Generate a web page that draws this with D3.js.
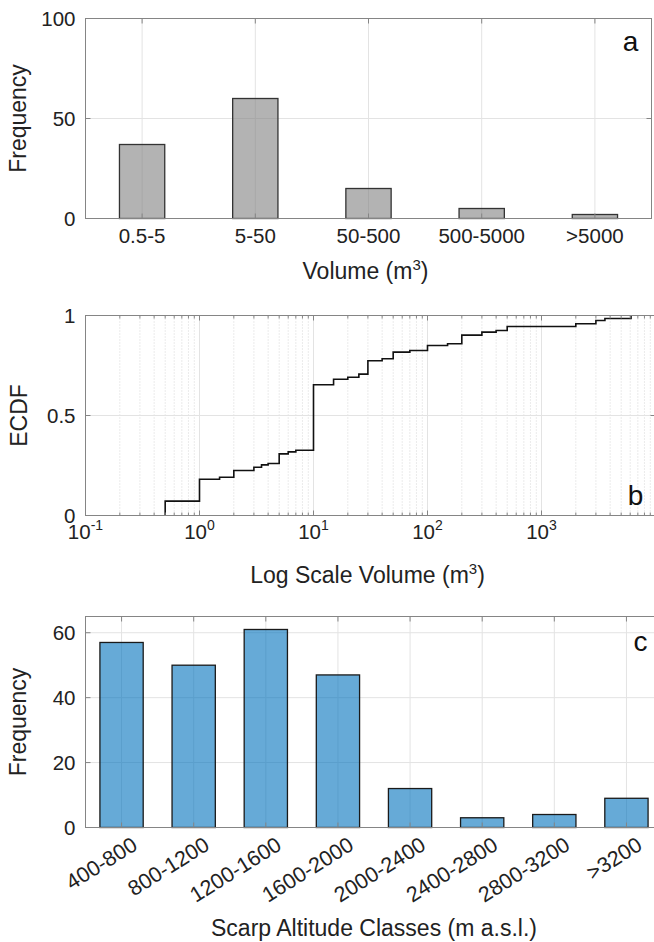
<!DOCTYPE html>
<html>
<head>
<meta charset="utf-8">
<script src="https://cdn.jsdelivr.net/npm/d3@7"></script>
<style>
  html, body { margin: 0; padding: 0; background: #fff; }
  svg { display: block; font-family: "Liberation Sans", Arial, Helvetica, sans-serif; }
  .tick-label { font-size: 20.5px; fill: #222; }
  .tick-label.rot { font-size: 21.5px; }
  .axis-label { font-size: 23px; fill: #222; }
  .panel-letter { font-size: 28px; fill: #111; }
</style>
</head>
<body>
<svg id="chart" width="654" height="942"></svg>
<script>
// panel a: volume classes
var volumeClasses = ["0.5-5", "5-50", "50-500", "500-5000", ">5000"];
var volumeCounts = [37, 60, 15, 5, 2];
var volumeTicks = [0, 50, 100];

var ecdfVolume = [0.5, 1, 1.5, 2, 3, 3.5, 4, 5, 6, 7, 10, 15, 20, 25, 30, 40, 50, 70,
                  100, 150, 200, 300, 400, 500, 2000, 3000, 3600, 6100];
var ecdfProb = [0.072, 0.181, 0.191, 0.225, 0.241, 0.253, 0.260, 0.308, 0.318, 0.326,
                0.654, 0.681, 0.691, 0.707, 0.774, 0.784, 0.817, 0.825,
                0.850, 0.859, 0.902, 0.917, 0.925, 0.945, 0.959, 0.975, 0.985, 1.0];
var ecdfTicks = [0, 0.5, 1];
var logTicks = [0.1, 1, 10, 100, 1000];
var logTickExp = ["-1", "0", "1", "2", "3"];

// panel c: scarp altitude classes
var altitudeClasses = ["400-800", "800-1200", "1200-1600", "1600-2000",
                       "2000-2400", "2400-2800", "2800-3200", ">3200"];
var altitudeCounts = [57, 50, 61, 47, 12, 3, 4, 9];
var altitudeTicks = [0, 20, 40, 60];

var svg = d3.select("#chart");
var axisColor = "#858585",
    gridColor = "#e3e3e3",
    minorGridColor = "#d6d6d6";

function drawFrame(g, x0, x1, y0, y1) {
  g.append("rect")
    .attr("x", x0).attr("y", y0)
    .attr("width", x1 - x0).attr("height", y1 - y0)
    .attr("fill", "none")
    .attr("stroke", axisColor)
    .attr("stroke-width", 1);
}

function drawYAxis(g, y, ticks, x0, x1, fmt) {
  ticks.forEach(function (t) {
    // inward ticks on both sides
    g.append("line")
      .attr("x1", x0).attr("x2", x0 + 5)
      .attr("y1", y(t)).attr("y2", y(t))
      .attr("stroke", axisColor);
    g.append("line")
      .attr("x1", x1).attr("x2", x1 - 5)
      .attr("y1", y(t)).attr("y2", y(t))
      .attr("stroke", axisColor);
    g.append("text")
      .attr("class", "tick-label")
      .attr("x", x0 - 10)
      .attr("y", y(t))
      .attr("dy", "0.36em")
      .attr("text-anchor", "end")
      .text(fmt ? fmt(t) : t);
  });
}

function drawHGrid(g, y, ticks, x0, x1) {
  ticks.forEach(function (t) {
    if (y(t) <= y.range()[1] + 1 || y(t) >= y.range()[0] - 1) return;
    g.append("line")
      .attr("x1", x0).attr("x2", x1)
      .attr("y1", y(t)).attr("y2", y(t))
      .attr("stroke", gridColor);
  });
}

function drawVGrid(g, xs, y0, y1, color, dash) {
  xs.forEach(function (xv) {
    g.append("line")
      .attr("x1", xv).attr("x2", xv)
      .attr("y1", y0).attr("y2", y1)
      .attr("stroke", color)
      .attr("stroke-dasharray", dash || null);
  });
}

function drawXTicks(g, xs, y0, y1, len) {
  xs.forEach(function (xv) {
    g.append("line")
      .attr("x1", xv).attr("x2", xv)
      .attr("y1", y1).attr("y2", y1 - len)
      .attr("stroke", axisColor);
    g.append("line")
      .attr("x1", xv).attr("x2", xv)
      .attr("y1", y0).attr("y2", y0 + len)
      .attr("stroke", axisColor);
  });
}

function yLabel(text, x, yMid) {
  svg.append("text")
    .attr("class", "axis-label")
    .attr("transform", "translate(" + x + "," + yMid + ") rotate(-90)")
    .attr("text-anchor", "middle")
    .text(text);
}

function supLabel(g, base, sup, x, y, cls, supSize, rise) {
  var t = g.append("text")
    .attr("class", cls)
    .attr("x", x).attr("y", y)
    .attr("text-anchor", "middle");
  t.append("tspan").text(base);
  t.append("tspan").attr("dy", -rise).style("font-size", supSize + "px").text(sup);
  return t;
}

// ---------- panel a ----------
(function () {
  var left = 85.5, right = 651.5, top = 18.5, bottom = 218.5;
  var g = svg.append("g");
  var x = d3.scaleLinear().domain([0.5, volumeClasses.length + 0.5]).range([left, right]);
  var y = d3.scaleLinear().domain([0, 100]).range([bottom, top]);
  var centers = volumeClasses.map(function (d, i) { return x(i + 1); });

  drawVGrid(g, centers, top, bottom, gridColor);
  drawHGrid(g, y, volumeTicks, left, right);

  g.selectAll("rect.bar").data(volumeCounts).enter()
    .append("rect")
    .attr("class", "bar")
    .attr("x", function (d, i) { return x(i + 1 - 0.2); })
    .attr("width", x(1.2) - x(0.8))
    .attr("y", function (d) { return y(d); })
    .attr("height", function (d) { return y(0) - y(d); })
    .attr("fill", "#808080")
    .attr("fill-opacity", 0.6)
    .attr("stroke", "#333")
    .attr("stroke-width", 1.3);

  drawFrame(g, left, right, top, bottom);
  drawXTicks(g, centers, top, bottom, 5);
  drawYAxis(g, y, volumeTicks, left, right);

  volumeClasses.forEach(function (c, i) {
    g.append("text")
      .attr("class", "tick-label")
      .attr("x", x(i + 1)).attr("y", bottom + 24)
      .attr("text-anchor", "middle")
      .text(c);
  });

  supLabel(g, "Volume (m", "3", (left + right) / 2 - 3, bottom + 60, "axis-label", 15, 9)
    .append("tspan").attr("dy", 9).text(")");
  yLabel("Frequency", 26, (top + bottom) / 2);

  g.append("text").attr("class", "panel-letter")
    .attr("x", 630.5).attr("y", 50.5).attr("text-anchor", "middle").text("a");
})();

// ---------- panel b ----------
(function () {
  var left = 85.5, right = 655.5, top = 315.5, bottom = 515.5;
  var g = svg.append("g");
  var x = d3.scaleLog().domain([0.1, 10000]).range([left, right]);
  var y = d3.scaleLinear().domain([0, 1]).range([bottom, top]);

  var minor = [];
  [-1, 0, 1, 2, 3].forEach(function (e) {
    d3.range(2, 10).forEach(function (k) { minor.push(k * Math.pow(10, e)); });
  });

  drawVGrid(g, minor.map(x), top, bottom, minorGridColor, "1,2");
  drawVGrid(g, logTicks.map(x), top, bottom, gridColor);
  drawHGrid(g, y, ecdfTicks, left, right);

  var pts = [{ v: ecdfVolume[0], p: 0 }].concat(ecdfVolume.map(function (v, i) {
    return { v: v, p: ecdfProb[i] };
  }));
  var line = d3.line()
    .curve(d3.curveStepAfter)
    .x(function (d) { return x(d.v); })
    .y(function (d) { return y(d.p); });

  g.append("path").datum(pts)
    .attr("d", line)
    .attr("fill", "none")
    .attr("stroke", "#111")
    .attr("stroke-width", 1.6);

  drawFrame(g, left, right, top, bottom);
  drawXTicks(g, minor.map(x), top, bottom, 3);
  drawXTicks(g, logTicks.map(x), top, bottom, 5);
  drawYAxis(g, y, ecdfTicks, left, right);

  logTicks.forEach(function (t, i) {
    supLabel(g, "10", logTickExp[i], x(t), bottom + 23, "tick-label", 14, 9);
  });

  supLabel(g, "Log Scale Volume (m", "3", (left + right) / 2 - 3, bottom + 67, "axis-label", 15, 9)
    .append("tspan").attr("dy", 9).text(")");
  yLabel("ECDF", 27, (top + bottom) / 2);

  g.append("text").attr("class", "panel-letter")
    .attr("x", 635.5).attr("y", 505).attr("text-anchor", "middle").text("b");
})();

// ---------- panel c ----------
(function () {
  var left = 85.5, right = 662.5, top = 616.5, bottom = 827.5;
  var g = svg.append("g");
  var x = d3.scaleLinear().domain([0.5, altitudeClasses.length + 0.5]).range([left, right]);
  var y = d3.scaleLinear().domain([0, 65]).range([bottom, top]);
  var centers = altitudeClasses.map(function (d, i) { return x(i + 1); });

  drawVGrid(g, centers, top, bottom, gridColor);
  drawHGrid(g, y, altitudeTicks, left, right);

  g.selectAll("rect.bar").data(altitudeCounts).enter()
    .append("rect")
    .attr("class", "bar")
    .attr("x", function (d, i) { return x(i + 1 - 0.3); })
    .attr("width", x(1.3) - x(0.7))
    .attr("y", function (d) { return y(d); })
    .attr("height", function (d) { return y(0) - y(d); })
    .attr("fill", "#0072BD")
    .attr("fill-opacity", 0.6)
    .attr("stroke", "#1a1a1a")
    .attr("stroke-width", 1.3);

  drawFrame(g, left, right, top, bottom);
  drawXTicks(g, centers, top, bottom, 5);
  drawYAxis(g, y, altitudeTicks, left, right);

  altitudeClasses.forEach(function (c, i) {
    g.append("text")
      .attr("class", "tick-label rot")
      .attr("transform", "translate(" + (x(i + 1) + 9) + "," + (bottom + 8) + ") rotate(-32)")
      .attr("dy", "0.72em")
      .attr("text-anchor", "end")
      .text(c);
  });

  g.append("text").attr("class", "axis-label")
    .attr("x", (left + right) / 2).attr("y", 936)
    .attr("text-anchor", "middle")
    .text("Scarp Altitude Classes (m a.s.l.)");
  yLabel("Frequency", 26, (top + bottom) / 2);

  g.append("text").attr("class", "panel-letter")
    .attr("x", 640.5).attr("y", 650.5).attr("text-anchor", "middle").text("c");
})();
</script>
</body>
</html>
